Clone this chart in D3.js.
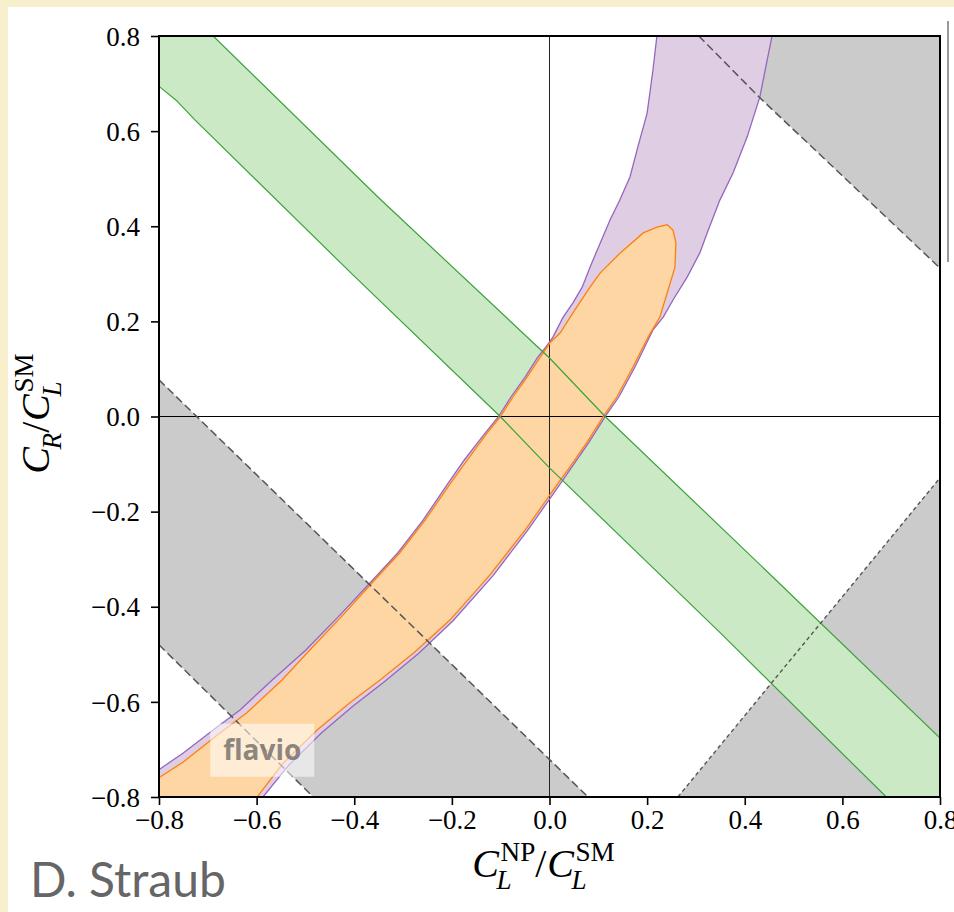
<!DOCTYPE html>
<html>
<head>
<meta charset="utf-8">
<script src="https://cdn.jsdelivr.net/npm/d3@7"></script>
<style>
  body { margin: 0; background: #f8efcd; }
  svg { display: block; }
</style>
</head>
<body>
<svg id="chart" width="954" height="912"></svg>
<script>
// Allowed region plot: C_L^NP/C_L^SM vs C_R/C_L^SM (flavio style).
// Contours are [x, y] pairs in data units.

const xTicks = [-0.8, -0.6, -0.4, -0.2, 0.0, 0.2, 0.4, 0.6, 0.8];
const yTicks = [-0.8, -0.6, -0.4, -0.2, 0.0, 0.2, 0.4, 0.6, 0.8];

// green band (straight diagonal constraint)
const greenUpper = [[-0.74, 0.85], [-0.689, 0.80], [-0.35, 0.46], [0.0, 0.123], [0.114, 0.0],
  [0.45, -0.33], [0.80, -0.676], [0.85, -0.726]];
const greenLower = [[-0.85, 0.74], [-0.796, 0.691], [-0.765, 0.665], [-0.726, 0.623], [-0.40, 0.295],
  [-0.101, 0.0], [0.0, -0.108], [0.35, -0.455], [0.69, -0.80], [0.74, -0.85]];

// purple band (curved)
const purpleLeft = [[0.222, 0.85], [0.220, 0.80], [0.212, 0.729], [0.200, 0.638], [0.181, 0.567],
  [0.165, 0.504], [0.144, 0.455], [0.124, 0.413], [0.104, 0.365], [0.083, 0.314], [0.067, 0.272],
  [0.048, 0.239], [0.028, 0.209], [0.007, 0.167], [-0.009, 0.144], [-0.024, 0.125], [-0.050, 0.083],
  [-0.079, 0.041], [-0.105, -0.001], [-0.132, -0.035], [-0.175, -0.092], [-0.209, -0.142],
  [-0.259, -0.218], [-0.311, -0.287], [-0.366, -0.348], [-0.427, -0.415], [-0.499, -0.491],
  [-0.568, -0.554], [-0.634, -0.617], [-0.681, -0.653], [-0.751, -0.708], [-0.798, -0.741],
  [-0.85, -0.775], [-0.85, -0.86]];
const purpleRight = [[0.462, 0.85], [0.456, 0.80], [0.446, 0.750], [0.431, 0.672], [0.405, 0.588],
  [0.376, 0.512], [0.349, 0.455], [0.323, 0.386], [0.308, 0.344], [0.282, 0.293], [0.253, 0.245],
  [0.233, 0.209], [0.212, 0.182], [0.202, 0.161], [0.175, 0.104], [0.142, 0.041], [0.116, 0.003],
  [0.081, -0.054], [0.046, -0.106], [0.026, -0.136], [-0.046, -0.241], [-0.116, -0.335],
  [-0.198, -0.430], [-0.269, -0.499], [-0.339, -0.558], [-0.403, -0.609], [-0.468, -0.666],
  [-0.534, -0.733], [-0.587, -0.80], [-0.623, -0.85]];

// orange combined region (closed)
const orangeContour = [[-0.85, -0.79], [-0.798, -0.758], [-0.751, -0.727], [-0.681, -0.670],
  [-0.620, -0.623], [-0.548, -0.554], [-0.491, -0.491], [-0.421, -0.415], [-0.362, -0.348],
  [-0.307, -0.287], [-0.255, -0.218], [-0.204, -0.142], [-0.169, -0.092], [-0.128, -0.035],
  [-0.101, -0.001], [-0.075, 0.041], [-0.046, 0.083], [-0.019, 0.125], [0.001, 0.155], [0.022, 0.176],
  [0.048, 0.218], [0.083, 0.272], [0.104, 0.302], [0.145, 0.344], [0.192, 0.386], [0.220, 0.398],
  [0.241, 0.403], [0.253, 0.392], [0.259, 0.365], [0.257, 0.314], [0.243, 0.266], [0.226, 0.209],
  [0.202, 0.167], [0.171, 0.104], [0.138, 0.041], [0.112, 0.003], [0.077, -0.054], [0.042, -0.106],
  [0.022, -0.134], [-0.050, -0.239], [-0.122, -0.333], [-0.204, -0.428], [-0.276, -0.495],
  [-0.347, -0.554], [-0.409, -0.602], [-0.476, -0.659], [-0.546, -0.729], [-0.599, -0.80],
  [-0.636, -0.86], [-0.85, -0.86]];

// grey excluded regions and their dashed borders
const grayTR = [[0.306, 0.8], [0.8, 0.8], [0.8, 0.312], [0.431, 0.670]];
const dashTR = [[0.306, 0.8], [0.431, 0.670], [0.8, 0.312]];
const grayBL = [[-0.8, 0.077], [0.079, -0.8], [-0.484, -0.8], [-0.8, -0.48]];
const dashBL1 = [[-0.8, 0.077], [0.079, -0.8]];
const dashBL2 = [[-0.8, -0.48], [-0.484, -0.8]];
const grayBR = [[0.263, -0.8], [0.8, -0.129], [0.8, -0.8]];
const dashBR = [[0.263, -0.8], [0.8, -0.129]];

const svg = d3.select("#chart");
const X0 = 159, X1 = 940, Y0 = 36, Y1 = 797;
const x = d3.scaleLinear().domain([-0.8, 0.8]).range([X0, X1]);
const y = d3.scaleLinear().domain([-0.8, 0.8]).range([Y1, Y0]);
const line = d3.line().x(d => x(d[0])).y(d => y(d[1]));
const serif = "'Liberation Serif', 'Times New Roman', serif";

// slide panel
svg.append("rect").attr("x", 8).attr("y", 7).attr("width", 954 - 8).attr("height", 912 - 7).attr("fill", "#fff");
svg.append("line").attr("x1", 948).attr("x2", 948).attr("y1", 21).attr("y2", 262)
  .attr("stroke", "#9a9a9a").attr("stroke-width", 2);

svg.append("clipPath").attr("id", "plotclip")
  .append("rect").attr("x", X0).attr("y", Y0).attr("width", X1 - X0).attr("height", Y1 - Y0);

const g = svg.append("g").attr("clip-path", "url(#plotclip)");

// fills
const GRAY = "#cbcbcb";
[grayTR, grayBL, grayBR].forEach(p =>
  g.append("path").attr("d", line(p) + "Z").attr("fill", GRAY));

g.append("path")
  .attr("d", line(greenUpper.concat([[0.85, -0.85]], greenLower.slice().reverse(), [[-0.85, 0.85]])) + "Z")
  .attr("fill", "#cce9c6");
g.append("path")
  .attr("d", line(purpleLeft.concat(purpleRight.slice().reverse())) + "Z")
  .attr("fill", "#dfcde4");
g.append("path").attr("d", line(orangeContour) + "Z").attr("fill", "#fdd6a3");

// zero lines
g.append("line").attr("x1", x(0)).attr("x2", x(0)).attr("y1", Y0).attr("y2", Y1)
  .attr("stroke", "#222").attr("stroke-width", 1);
g.append("line").attr("x1", X0).attr("x2", X1).attr("y1", y(0)).attr("y2", y(0))
  .attr("stroke", "#000").attr("stroke-width", 1);

// contour lines
g.append("path").attr("d", line(purpleLeft)).attr("fill", "none").attr("stroke", "#9467bd").attr("stroke-width", 1.3);
g.append("path").attr("d", line(purpleRight)).attr("fill", "none").attr("stroke", "#9467bd").attr("stroke-width", 1.3);
g.append("path").attr("d", line(orangeContour) + "Z").attr("fill", "none").attr("stroke", "#ff7f0e").attr("stroke-width", 1.3);
g.append("path").attr("d", line(greenUpper)).attr("fill", "none").attr("stroke", "#3ca23c").attr("stroke-width", 1.2);
g.append("path").attr("d", line(greenLower)).attr("fill", "none").attr("stroke", "#3ca23c").attr("stroke-width", 1.2);
[dashTR, dashBL1, dashBL2].forEach(p =>
  g.append("path").attr("d", line(p)).attr("fill", "none").attr("stroke", "#555")
    .attr("stroke-width", 1.5).attr("stroke-dasharray", "8,4"));
g.append("path").attr("d", line(dashBR)).attr("fill", "none").attr("stroke", "#555")
  .attr("stroke-width", 1.4).attr("stroke-dasharray", "4,3");

// flavio watermark
svg.append("rect").attr("x", x(-0.695)).attr("y", y(-0.646)).attr("width", 104).attr("height", 53)
  .attr("fill", "#fff").attr("fill-opacity", 0.55);
svg.append("text").attr("x", x(-0.695) + 52).attr("y", y(-0.646) + 36)
  .attr("text-anchor", "middle").attr("font-family", "'Open Sans', sans-serif").attr("font-weight", 700)
  .attr("font-size", 28).attr("fill", "#6e6a66").attr("fill-opacity", 0.8).text("flavio");

// axes
const fmt = d3.format(".1f");
const xAxis = svg.append("g").attr("transform", `translate(0,${Y1})`)
  .call(d3.axisBottom(x).tickValues(xTicks).tickFormat(fmt).tickSizeInner(8).tickSizeOuter(0).tickPadding(5));
const yAxis = svg.append("g").attr("transform", `translate(${X0},0)`)
  .call(d3.axisLeft(y).tickValues(yTicks).tickFormat(fmt).tickSizeInner(8).tickSizeOuter(0).tickPadding(11));
[xAxis, yAxis].forEach(a => {
  a.select(".domain").remove();
  a.selectAll(".tick line").attr("stroke", "#000").attr("stroke-width", 1.6);
  a.selectAll(".tick text").attr("font-family", serif).attr("font-size", 27).attr("fill", "#000");
});
yAxis.selectAll(".tick text").attr("dy", "0.34em");

svg.append("rect").attr("x", X0).attr("y", Y0).attr("width", X1 - X0).attr("height", Y1 - Y0)
  .attr("fill", "none").attr("stroke", "#000").attr("stroke-width", 2);

// LaTeX-ish axis labels: one <text> with tspans for stacked sub/superscripts
function measure(s, size, italic) {
  const m = svg.append("text").attr("font-family", serif).attr("font-size", size)
    .attr("font-style", italic ? "italic" : "normal").text(s);
  const w = m.node().getComputedTextLength();
  m.remove();
  return w;
}
function mathLabel(parent, items, fs) {
  const t = parent.append("text").attr("font-family", serif).attr("font-size", fs)
    .attr("text-anchor", "middle").attr("fill", "#000");
  const small = fs * 0.68, supY = -0.4 * fs, subY = 0.3 * fs, back = 0.1 * fs;
  let cur = 0, pending = 0;
  items.forEach(it => {
    t.append("tspan").attr("font-style", it.italic ? "italic" : "normal")
      .attr("dx", pending).attr("dy", -cur).text(it.base);
    cur = 0;
    pending = it.italic ? 0.04 * fs : 0.02 * fs;
    const supW = it.sup ? measure(it.sup, small, false) : 0;
    const subW = it.sub ? measure(it.sub, small, true) : 0;
    if (it.sup) {
      t.append("tspan").attr("font-size", small).attr("font-style", "normal")
        .attr("dx", pending).attr("dy", supY - cur).text(it.sup);
      cur = supY; pending = 0;
    }
    if (it.sub) {
      t.append("tspan").attr("font-size", small).attr("font-style", "italic")
        .attr("dx", (it.sup ? -supW : pending) - back).attr("dy", subY - cur).text(it.sub);
      cur = subY;
      pending = Math.max(supW, subW - back) - (subW - back);
    }
  });
  return t;
}

const xl = svg.append("g").attr("transform", `translate(${(X0 + X1) / 2 - 6},877)`);
mathLabel(xl, [{ base: "C", italic: true, sub: "L", sup: "NP" }, { base: "/" },
  { base: "C", italic: true, sub: "L", sup: "SM" }], 40);

const yl = svg.append("g").attr("transform", `translate(49,${(Y0 + Y1) / 2 - 3}) rotate(-90)`);
mathLabel(yl, [{ base: "C", italic: true, sub: "R" }, { base: "/" },
  { base: "C", italic: true, sub: "L", sup: "SM" }], 40);

// author credit
svg.append("text").attr("x", 30).attr("y", 897).attr("font-family", "Lato, 'Open Sans', sans-serif")
  .attr("font-size", 48).attr("fill", "#666").text("D. Straub");
</script>
</body>
</html>
